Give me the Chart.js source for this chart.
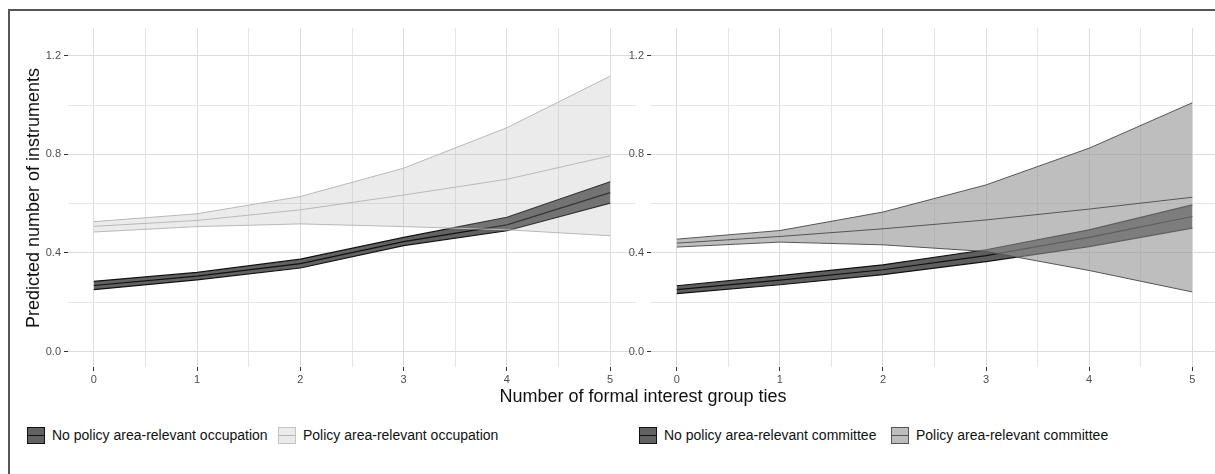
<!DOCTYPE html>
<html>
<head>
<meta charset="utf-8">
<script src="https://cdn.jsdelivr.net/npm/chart.js@4.4.1/dist/chart.umd.min.js"></script>
<style>
  html, body { margin: 0; padding: 0; background: #fff; overflow: hidden; }
  body { width: 1215px; height: 474px; position: relative; font-family: "Liberation Sans", Arial, sans-serif; }
  #frame { position: absolute; left: 8px; top: 9px; width: 1300px; height: 600px;
           border-top: 2px solid #555; border-left: 2px solid #555; }
  canvas { position: absolute; top: 0; }
  #leftChart { left: 0; }
  #rightChart { left: 620px; }
  #xTitle { position: absolute; left: 443px; width: 400px; top: 386px; text-align: center;
            font-size: 18px; line-height: 20px; color: #111; }
  #yTitle { position: absolute; left: -117px; width: 300px; top: 187px; height: 22px; text-align: center;
            font-size: 18px; line-height: 22px; color: #111; transform: rotate(-90deg); }
  .item { position: absolute; top: 426px; height: 18px; display: flex; align-items: center;
          font-size: 14px; color: #111; white-space: nowrap; }
  .key { width: 16px; height: 15px; margin-right: 7px; position: relative; box-sizing: content-box; }
  .key::after { content: ""; position: absolute; left: 0; right: 0; top: 7px; height: 1px; background: var(--mid); }
</style>
</head>
<body>
<div id="frame"></div>
<canvas id="leftChart" width="640" height="400"></canvas>
<canvas id="rightChart" width="600" height="400"></canvas>
<div id="yTitle">Predicted number of instruments</div>
<div id="xTitle">Number of formal interest group ties</div>
<div class="item" style="left:27px"><span class="key" style="background:#626262;border:1px solid #111;--mid:#111"></span>No policy area-relevant occupation</div>
<div class="item" style="left:278px"><span class="key" style="background:#ebebeb;border:1px solid #c4c4c4;--mid:#b5b5b5"></span>Policy area-relevant occupation</div>
<div class="item" style="left:639px"><span class="key" style="background:#626262;border:1px solid #111;--mid:#111"></span>No policy area-relevant committee</div>
<div class="item" style="left:891px"><span class="key" style="background:#bdbdbd;border:1px solid #555;--mid:#555"></span>Policy area-relevant committee</div>
<script>
// number of formal interest group ties
const ties = [0, 1, 2, 3, 4, 5];

// left panel: occupation
const occNoLow = [0.251, 0.291, 0.339, 0.430, 0.490, 0.602];
const occNoMid = [0.268, 0.306, 0.357, 0.446, 0.514, 0.645];
const occNoHigh = [0.285, 0.321, 0.375, 0.463, 0.545, 0.689];
const occYesLow = [0.485, 0.507, 0.518, 0.507, 0.494, 0.470];
const occYesMid = [0.508, 0.532, 0.575, 0.635, 0.699, 0.794];
const occYesHigh = [0.527, 0.559, 0.629, 0.744, 0.908, 1.117];

// right panel: committee
const comNoLow = [0.235, 0.271, 0.312, 0.365, 0.426, 0.501];
const comNoMid = [0.251, 0.290, 0.332, 0.389, 0.463, 0.548];
const comNoHigh = [0.267, 0.308, 0.352, 0.413, 0.494, 0.595];
const comYesLow = [0.424, 0.444, 0.433, 0.406, 0.329, 0.242];
const comYesMid = [0.440, 0.467, 0.498, 0.534, 0.578, 0.626];
const comYesHigh = [0.456, 0.491, 0.566, 0.676, 0.825, 1.009];

// axis ticks (labelled) and minor grid lines
const xTicks = [0, 1, 2, 3, 4, 5];
const xMinor = [0.5, 1.5, 2.5, 3.5, 4.5];
const yTicks = [0, 0.4, 0.8, 1.2];
const yMinor = [0.2, 0.6, 1.0];

function pts(arr) {
    return ties.map((x, i) => ({ x: x, y: arr[i] }));
}

function isMajor(list, v) {
    return list.some(t => Math.abs(t - v) < 1e-6);
}

function band(low, mid, high, fill, line, lw, startOrder) {
    const common = { pointRadius: 0, tension: 0, borderWidth: lw, borderColor: line };
    return [
        Object.assign({}, common, { data: pts(low), fill: '+1', backgroundColor: fill, order: startOrder }),
        Object.assign({}, common, { data: pts(high), fill: false, order: startOrder - 1 }),
        Object.assign({}, common, { data: pts(mid), fill: false, order: startOrder - 2 })
    ];
}

function makeChart(id, datasets, yWidth, padRight) {
    const ctx = document.getElementById(id).getContext('2d');
    return new Chart(ctx, {
        type: 'line',
        data: { datasets: datasets },
        options: {
            responsive: false,
            animation: false,
            events: [],
            layout: { padding: { top: 28, right: padRight, bottom: 0, left: 0 } },
            plugins: { legend: { display: false }, tooltip: { enabled: false } },
            scales: {
                x: {
                    type: 'linear',
                    min: -0.25,
                    max: 5.25,
                    afterBuildTicks: s => { s.ticks = xTicks.concat(xMinor).sort((a, b) => a - b).map(v => ({ value: v })); },
                    afterFit: s => { s.height = 33; },
                    border: { display: false },
                    grid: {
                        color: c => isMajor(xTicks, c.tick.value) ? '#dcdcdc' : '#e6e6e6',
                        lineWidth: 1,
                        tickLength: 4,
                        tickColor: c => isMajor(xTicks, c.tick.value) ? '#333' : 'rgba(0,0,0,0)'
                    },
                    ticks: {
                        autoSkip: false,
                        maxRotation: 0,
                        padding: 2,
                        color: '#4d4d4d',
                        font: { family: '"Liberation Sans", Arial, sans-serif', size: 11 },
                        callback: v => isMajor(xTicks, v) ? String(Math.round(v)) : ''
                    }
                },
                y: {
                    min: -0.0625,
                    max: 1.3125,
                    afterBuildTicks: s => { s.ticks = yTicks.concat(yMinor).sort((a, b) => a - b).map(v => ({ value: v })); },
                    afterFit: s => { s.width = yWidth; },
                    border: { display: false },
                    grid: {
                        color: c => isMajor(yTicks, c.tick.value) ? '#dcdcdc' : '#e6e6e6',
                        lineWidth: 1,
                        tickLength: 4,
                        tickColor: c => isMajor(yTicks, c.tick.value) ? '#333' : 'rgba(0,0,0,0)'
                    },
                    ticks: {
                        autoSkip: false,
                        padding: 3,
                        color: '#4d4d4d',
                        font: { family: '"Liberation Sans", Arial, sans-serif', size: 11 },
                        callback: v => isMajor(yTicks, v) ? v.toFixed(1) : ''
                    }
                }
            }
        }
    });
}

makeChart('leftChart',
    band(occNoLow, occNoMid, occNoHigh, '#626262', '#111', 1.2, 6)
        .concat(band(occYesLow, occYesMid, occYesHigh, 'rgba(171,171,171,0.24)', '#b8b8b8', 1, 3)),
    68, 4);

makeChart('rightChart',
    band(comNoLow, comNoMid, comNoHigh, '#5e5e5e', '#111', 1.2, 6)
        .concat(band(comYesLow, comYesMid, comYesHigh, 'rgba(146,146,146,0.6)', '#555', 1, 3)),
    31, 2);
</script>
</body>
</html>
